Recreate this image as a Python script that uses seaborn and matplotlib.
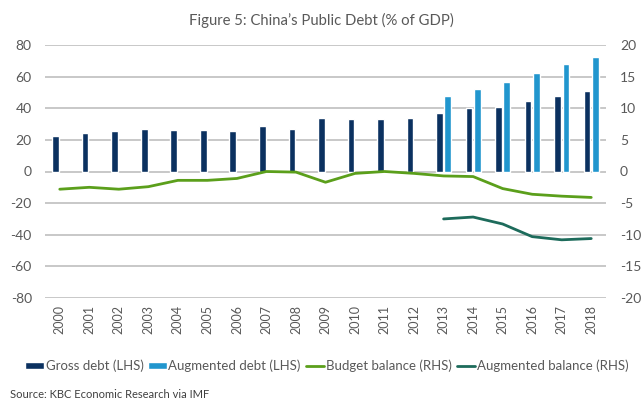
import numpy as np
import pandas as pd
import matplotlib
matplotlib.use("Agg")
import matplotlib.pyplot as plt
from matplotlib.patches import Patch
from matplotlib.lines import Line2D
import seaborn as sns

years = [str(y) for y in range(2000, 2019)]
gross_debt = [22.7, 24.4, 25.7, 26.7, 26.3, 26.3, 25.5, 29.0, 27.1, 34.1,
              33.5, 33.5, 34.1, 37.0, 40.0, 41.0, 44.4, 47.6, 51.1]
augmented_debt = [np.nan] * 13 + [48.0, 52.4, 56.8, 62.3, 67.8, 72.4]
budget_balance = [-2.8, -2.5, -2.8, -2.4, -1.4, -1.4, -1.1, 0.0, -0.1, -1.7,
                  -0.3, 0.0, -0.3, -0.7, -0.8, -2.7, -3.6, -3.9, -4.1]
augmented_balance = [np.nan] * 13 + [-7.5, -7.2, -8.3, -10.3, -10.8, -10.6]

left_ticks = [-80, -60, -40, -20, 0, 20, 40, 60, 80]
right_ticks = [-20, -15, -10, -5, 0, 5, 10, 15, 20]

NAVY = "#0B3160"
SKY = "#2196CE"
GREEN = "#5B9F1B"
TEAL = "#1D6B5B"
GRID = "#BFBFBF"
TXT = "#595959"

sns.set_theme(style="white")
plt.rcParams["font.family"] = ["Lato", "DejaVu Sans"]
plt.rcParams["axes.unicode_minus"] = False

bars = pd.DataFrame({
    "year": years * 2,
    "value": gross_debt + augmented_debt,
    "series": ["Gross debt (LHS)"] * len(years) + ["Augmented debt (LHS)"] * len(years),
})
lines = pd.DataFrame({
    "pos": list(range(len(years))) * 2,
    "value": budget_balance + augmented_balance,
    "series": ["Budget balance (RHS)"] * len(years) + ["Augmented balance (RHS)"] * len(years),
})

fig = plt.figure(figsize=(6.42, 4.03), dpi=100)
ax = fig.add_axes([45 / 642, 1 - 298 / 403, 561 / 642, 253 / 403])

sns.barplot(data=bars, x="year", y="value", hue="series", order=years,
            palette=[NAVY, SKY], width=0.56, gap=0.2, ax=ax, legend=False,
            saturation=1)

ax.set_ylim(-80, 80)
ax.set_xlim(-0.5, len(years) - 0.5)
ax.set_yticks(left_ticks)
ax.yaxis.grid(True, color=GRID, linewidth=1.2)
ax.set_axisbelow(True)
ax.set_xlabel("")
ax.set_ylabel("")
for s in ax.spines.values():
    s.set_visible(False)
ax.tick_params(axis="y", length=0, pad=9.5, labelsize=10, labelcolor=TXT)
ax.tick_params(axis="x", length=0, pad=5, labelsize=9, labelcolor=TXT, rotation=90)

ax2 = ax.twinx()
sns.lineplot(data=lines, x="pos", y="value", hue="series",
             palette=[GREEN, TEAL], linewidth=2, ax=ax2, legend=False)
ax2.set_ylim(-20, 20)
ax2.set_yticks(right_ticks)
ax2.set_ylabel("")
ax2.set_xlabel("")
for s in ax2.spines.values():
    s.set_visible(False)
ax2.tick_params(axis="y", length=0, pad=10, labelsize=10, labelcolor=TXT)
ax2.grid(False)

fig.text(0.5, 1 - 20 / 403, "Figure 5: China\u2019s Public Debt (% of GDP)",
         ha="center", va="center", fontsize=10.7, color=TXT)

handles = [
    Patch(facecolor=NAVY, label="Gross debt (LHS)"),
    Patch(facecolor=SKY, label="Augmented debt (LHS)"),
    Line2D([], [], color=GREEN, linewidth=2, label="Budget balance (RHS)"),
    Line2D([], [], color=TEAL, linewidth=2, label="Augmented balance (RHS)"),
]
fig.legend(handles=handles, loc="center", bbox_to_anchor=(327 / 642, 1 - 366 / 403),
           ncol=4, frameon=False, fontsize=9.5, labelcolor=TXT,
           handlelength=1.37, handletextpad=0.15, columnspacing=0.38,
           handleheight=0.45, borderpad=0, borderaxespad=0)

fig.text(10 / 642, 1 - 394 / 403, "Source: KBC Economic Research via IMF",
         ha="left", va="center", fontsize=8, color="#404040")

fig.savefig("out.png", dpi=100)
